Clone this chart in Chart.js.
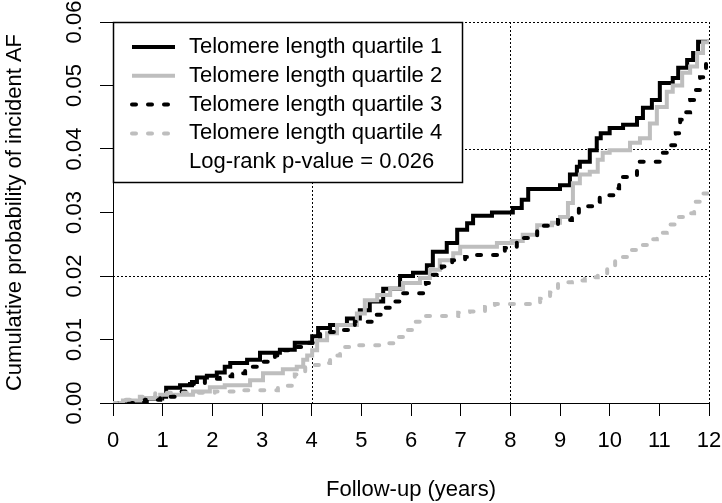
<!DOCTYPE html>
<html>
<head>
<meta charset="utf-8">
<script src="https://cdn.jsdelivr.net/npm/chart.js@4"></script>
<style>
  html, body { margin: 0; padding: 0; background: #fff; }
</style>
</head>
<body>
<canvas id="myChart" width="722" height="503"></canvas>
<script>
// Kaplan-Meier style cumulative incidence
const seriesNames = ['Telomere length quartile 1', 'Telomere length quartile 2', 'Telomere length quartile 3', 'Telomere length quartile 4']
const pValueText = 'Log-rank p-value = 0.026'

const q1Time = [0, 0.68, 0.99, 1.07, 1.35, 1.59, 1.69, 1.89, 2.09, 2.25, 2.36, 2.70, 2.96, 3.36, 3.66, 4.01, 4.13, 4.37, 4.71, 4.97, 5.17, 5.44, 5.78, 6.04, 6.32, 6.44, 6.72, 6.93, 7.13, 7.25, 7.63, 8.05, 8.23, 8.36, 9.0, 9.2, 9.34, 9.4, 9.6, 9.74, 9.82, 10.0, 10.27, 10.55, 10.67, 10.85, 11.01, 11.27, 11.38, 11.56, 11.68, 11.78, 11.98]
const q1Value = [0, 0.0007, 0.001, 0.0024, 0.0028, 0.0033, 0.004, 0.0043, 0.0048, 0.0057, 0.0063, 0.0068, 0.0079, 0.0084, 0.0095, 0.0105, 0.0118, 0.0123, 0.0133, 0.0146, 0.016, 0.018, 0.020, 0.0205, 0.0217, 0.0238, 0.0252, 0.0273, 0.0283, 0.0295, 0.030, 0.0307, 0.032, 0.0337, 0.0343, 0.036, 0.0372, 0.038, 0.0398, 0.0417, 0.0425, 0.0433, 0.0438, 0.0449, 0.0465, 0.0477, 0.0504, 0.0512, 0.0528, 0.054, 0.0551, 0.0569, 0.0572]

const q2Time = [0, 0.2, 0.55, 0.95, 1.61, 1.95, 2.25, 2.76, 3.02, 3.42, 3.70, 3.83, 3.91, 4.01, 4.11, 4.31, 4.51, 4.91, 5.07, 5.32, 5.58, 5.84, 6.18, 6.38, 6.58, 6.85, 6.99, 7.73, 8.03, 8.25, 8.54, 8.84, 9.0, 9.16, 9.26, 9.40, 9.60, 9.76, 9.86, 10.0, 10.41, 10.61, 10.81, 10.95, 11.15, 11.27, 11.46, 11.62, 11.76, 11.88, 12]
const q2Value = [0, 0.0004, 0.0008, 0.0013, 0.0018, 0.0025, 0.0028, 0.0036, 0.0047, 0.0053, 0.0057, 0.0068, 0.0075, 0.0083, 0.0099, 0.011, 0.0123, 0.0141, 0.0162, 0.017, 0.018, 0.0189, 0.0197, 0.021, 0.0225, 0.0236, 0.0246, 0.0252, 0.0255, 0.0265, 0.028, 0.0284, 0.0293, 0.0315, 0.0346, 0.036, 0.0364, 0.0383, 0.0394, 0.0398, 0.041, 0.0417, 0.044, 0.0466, 0.049, 0.050, 0.052, 0.053, 0.0551, 0.0568, 0.0572]

const q3Time = [0, 0.64, 0.95, 1.25, 1.55, 1.85, 2.15, 2.40, 2.66, 3.0, 3.26, 3.42, 3.66, 3.87, 4.07, 4.17, 4.57, 4.87, 5.21, 5.48, 5.68, 5.82, 6.30, 6.42, 6.62, 6.83, 7.09, 7.29, 7.89, 8.13, 8.54, 8.96, 9.24, 9.38, 9.66, 9.80, 10.11, 10.19, 10.55, 11.01, 11.17, 11.33, 11.42, 11.51, 11.62, 11.72, 11.82, 11.94, 12]
const q3Value = [0, 0.0005, 0.001, 0.0018, 0.003, 0.0038, 0.0042, 0.0047, 0.0057, 0.0065, 0.0075, 0.0083, 0.0088, 0.0095, 0.0105, 0.0112, 0.0115, 0.0128, 0.0139, 0.015, 0.016, 0.0173, 0.0189, 0.0202, 0.0215, 0.0225, 0.023, 0.0233, 0.0244, 0.026, 0.0279, 0.0288, 0.0299, 0.031, 0.0317, 0.0327, 0.0338, 0.0356, 0.038, 0.0394, 0.0406, 0.0425, 0.0446, 0.0458, 0.0477, 0.0493, 0.0513, 0.0535, 0.0535]

const q4Time = [0, 0.24, 0.54, 0.85, 2.05, 2.56, 3.32, 3.66, 3.87, 4.17, 4.37, 4.57, 4.93, 5.48, 5.68, 5.88, 6.08, 6.26, 6.95, 7.19, 7.49, 7.69, 8.60, 8.80, 8.96, 9.24, 9.50, 9.76, 9.95, 10.11, 10.35, 10.55, 10.75, 10.95, 11.15, 11.33, 11.52, 11.70, 11.86, 12]
const q4Value = [0, 0.0005, 0.001, 0.0016, 0.0018, 0.002, 0.0027, 0.0045, 0.006, 0.0063, 0.0075, 0.0088, 0.0091, 0.0094, 0.0104, 0.0115, 0.0128, 0.0137, 0.0142, 0.0144, 0.0151, 0.0156, 0.0164, 0.0174, 0.019, 0.0193, 0.0198, 0.0204, 0.0216, 0.023, 0.0241, 0.0249, 0.0258, 0.0268, 0.0281, 0.0293, 0.0299, 0.0317, 0.033, 0.0335]

// dotted reference lines (abline)
const gridX = [4, 8, 12]
const gridY = [0.02, 0.04, 0.06]

const GRAY = '#bebebe'
const FONT = "'Liberation Sans', Arial, sans-serif"
Chart.defaults.font.family = FONT
Chart.defaults.font.size = 22
Chart.defaults.color = '#000'

const toPoints = (t, v) => t.map((x, i) => ({ x: x, y: v[i] }))

const lineStyles = [
  { color: '#000', dash: [] },
  { color: GRAY, dash: [] },
  { color: '#000', dash: [4, 12] },
  { color: GRAY, dash: [4, 12] },
]

const allData = [toPoints(q1Time, q1Value), toPoints(q2Time, q2Value), toPoints(q3Time, q3Value), toPoints(q4Time, q4Value)]

const datasets = allData.map((d, i) => ({
  label: seriesNames[i],
  data: d,
  borderColor: lineStyles[i].color,
  borderDash: lineStyles[i].dash,
  borderCapStyle: lineStyles[i].dash.length ? 'round' : 'butt',
  borderWidth: 4,
  stepped: true,
  pointRadius: 0,
  fill: false,
  order: 4 - i,
}))

const extras = {
  id: 'extras',
  beforeDatasetsDraw(chart) {
    const { ctx, chartArea: a, scales: { x, y } } = chart
    ctx.save()
    ctx.strokeStyle = '#000'
    ctx.lineWidth = 1
    ctx.setLineDash([2, 2])
    gridX.forEach(v => {
      const px = Math.round(x.getPixelForValue(v)) + 0.5
      ctx.beginPath(); ctx.moveTo(px, a.top); ctx.lineTo(px, a.bottom); ctx.stroke()
    })
    gridY.forEach(v => {
      const py = Math.round(y.getPixelForValue(v)) + 0.5
      ctx.beginPath(); ctx.moveTo(a.left, py); ctx.lineTo(a.right, py); ctx.stroke()
    })
    ctx.restore()
  },
  afterDatasetsDraw(chart) {
    // legend box in the top left corner
    const { ctx, chartArea: a } = chart
    const w = 349, h = 160
    ctx.save()
    ctx.fillStyle = '#fff'
    ctx.fillRect(a.left, a.top, w, h)
    ctx.strokeStyle = '#000'
    ctx.lineWidth = 1.5
    ctx.setLineDash([])
    ctx.strokeRect(a.left + 0.5, a.top + 0.5, w, h)
    ctx.font = '22px ' + FONT
    ctx.fillStyle = '#000'
    ctx.textBaseline = 'middle'
    ctx.textAlign = 'left'
    chart.data.datasets.forEach((ds, i) => {
      const ry = a.top + 25 + i * 28.8
      ctx.strokeStyle = ds.borderColor
      ctx.lineWidth = 4
      ctx.setLineDash(ds.borderDash)
      ctx.lineCap = ds.borderCapStyle
      ctx.beginPath(); ctx.moveTo(a.left + 19, ry); ctx.lineTo(a.left + 62, ry); ctx.stroke()
      ctx.fillText(ds.label, a.left + 76, ry)
    })
    ctx.fillText(pValueText, a.left + 76, a.top + 25 + 4 * 28.8)
    ctx.restore()
  },
  afterDraw(chart) {
    // y tick labels turned like R's las = 0
    const { ctx, scales: { y } } = chart
    ctx.save()
    ctx.font = '22px ' + FONT
    ctx.fillStyle = '#000'
    ctx.textAlign = 'center'
    ctx.textBaseline = 'middle'
    y.ticks.forEach(t => {
      ctx.save()
      ctx.translate(75, y.getPixelForValue(t.value))
      ctx.rotate(-Math.PI / 2)
      ctx.fillText(t.value.toFixed(2), 0, 0)
      ctx.restore()
    })
    ctx.restore()
  }
}

const ctx = document.getElementById('myChart')

const myChart = new Chart(ctx, {
  type: 'line',
  data: { datasets: datasets },
  options: {
    responsive: false,
    animation: false,
    layout: { padding: { top: 22, right: 13, left: 0, bottom: 0 } },
    plugins: { legend: { display: false }, tooltip: { enabled: false } },
    scales: {
      x: {
        type: 'linear',
        min: 0,
        max: 12,
        ticks: { stepSize: 1, padding: 12, font: { size: 22 } },
        grid: { drawOnChartArea: false, drawTicks: true, tickLength: 13, tickColor: '#000', tickWidth: 1 },
        border: { color: '#000', width: 1 },
        title: { display: true, text: 'Follow-up (years)', font: { size: 22 }, padding: { top: 0, bottom: 0 } },
        afterFit: s => { s.height = 100; s.paddingLeft = 0; s.paddingRight = 0 }
      },
      y: {
        min: 0,
        max: 0.06,
        ticks: { stepSize: 0.01, display: false },
        grid: { drawOnChartArea: false, drawTicks: true, tickLength: 13, tickColor: '#000', tickWidth: 1 },
        border: { color: '#000', width: 1 },
        title: { display: true, text: 'Cumulative probability of incident AF', font: { size: 22 }, padding: { top: 2, bottom: 0 } },
        afterFit: s => { s.width = 113; s.paddingTop = 0; s.paddingBottom = 0 }
      }
    }
  },
  plugins: [extras]
})
</script>
</body>
</html>
